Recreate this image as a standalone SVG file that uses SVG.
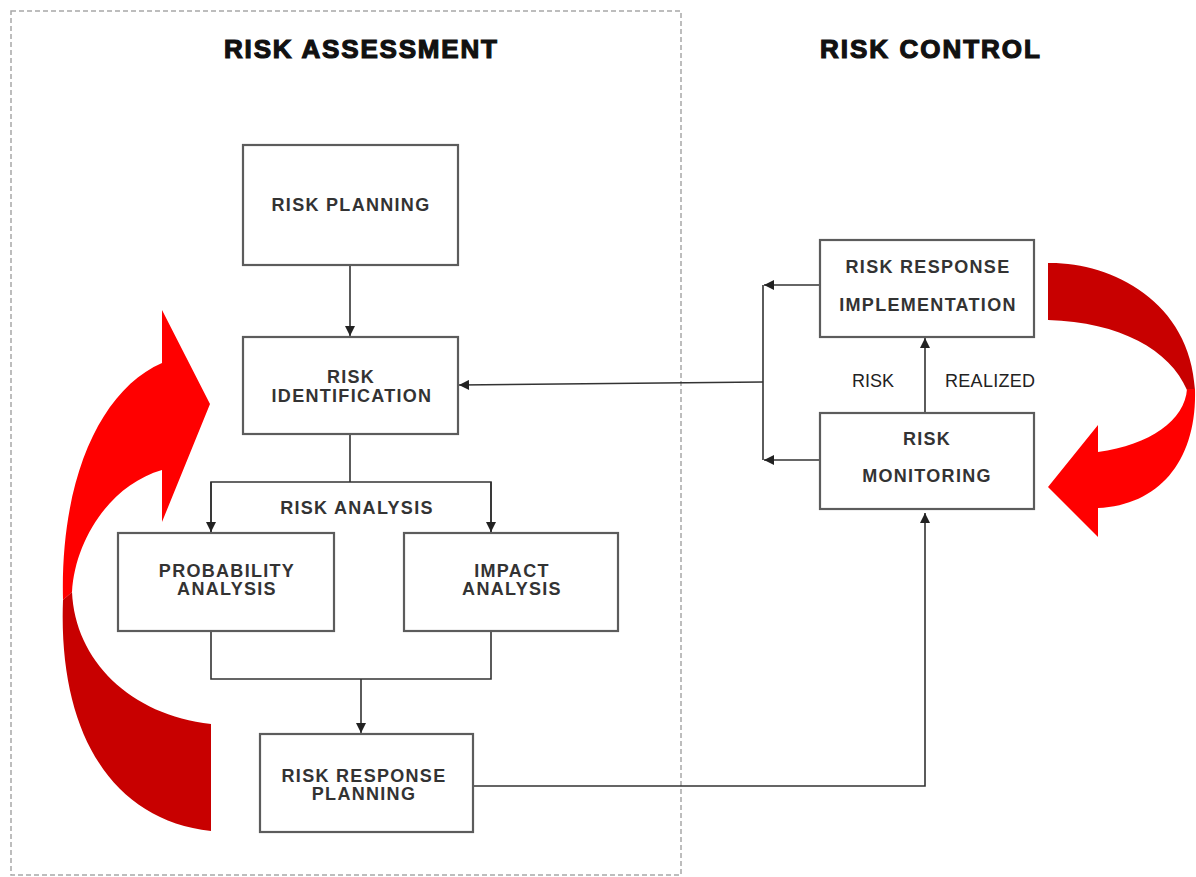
<svg xmlns="http://www.w3.org/2000/svg" width="1196" height="877" viewBox="0 0 1196 877">
<defs>
<style>
.box{fill:#fff;stroke:#5c5c5c;stroke-width:2.2}
.bt{font-family:"Liberation Sans",Arial,sans-serif;font-weight:bold;font-size:18px;fill:#333;letter-spacing:1.3px;text-anchor:middle}
.title{font-family:"Liberation Sans",Arial,sans-serif;font-weight:bold;font-size:26px;fill:#111;stroke:#111;stroke-width:1.2px}
.lbl{font-family:"Liberation Sans",Arial,sans-serif;font-size:18px;fill:#222}
.con{fill:none;stroke:#333;stroke-width:1.6}
.frame{fill:none;stroke:#a8a8a8;stroke-width:1.5;stroke-dasharray:5 3}
</style>
<marker id="ah" viewBox="0 0 10 10" refX="10" refY="5" markerWidth="11" markerHeight="10" markerUnits="userSpaceOnUse" orient="auto">
<path d="M0,0 L10,5 L0,10 Z" fill="#222"/>
</marker>
</defs>
<rect width="1196" height="877" fill="#fff"/>
<rect class="frame" x="11" y="11" width="670" height="864"/>
<text class="title" x="224" y="58" textLength="273" lengthAdjust="spacing">RISK ASSESSMENT</text>
<text class="title" x="820" y="58" textLength="220" lengthAdjust="spacing">RISK CONTROL</text>

<g id="left-cycle-arrow">
<path d="M162,310 L210,404 L162,522 L162,470 C110,485 75,540 72,592 L63,600 C60,480 100,390 162,363 Z" fill="#ff0000"/>
<path d="M72,592 C75,660 130,715 211,724 L211,831 C110,820 58,730 63,600 Z" fill="#c80000"/>
</g>
<g id="right-cycle-arrow">
<path d="M1048,263 C1110,262 1190,300 1195,390 L1187,390 C1170,350 1120,322 1048,320 Z" fill="#c80000"/>
<path d="M1195,389 C1197,460 1160,505 1098,508 L1098,537 L1048,487 L1098,425 L1098,452 C1150,445 1185,420 1187,389 Z" fill="#ff0000"/>
</g>

<g id="connectors">
<line class="con" x1="350" y1="265" x2="350" y2="336" marker-end="url(#ah)"/>
<polyline class="con" points="350,434 350,482"/>
<polyline class="con" points="211,532 211,482 491,482 491,532"/>
<line class="con" x1="211" y1="482" x2="211" y2="532" marker-end="url(#ah)"/>
<line class="con" x1="491" y1="482" x2="491" y2="532" marker-end="url(#ah)"/>
<polyline class="con" points="211,631 211,679 491,679 491,631"/>
<line class="con" x1="361" y1="679" x2="361" y2="733" marker-end="url(#ah)"/>
<polyline class="con" points="473,786 925,786 925,513" marker-end="url(#ah)"/>
<line class="con" x1="925" y1="412" x2="925" y2="338" marker-end="url(#ah)"/>
<line class="con" x1="820" y1="285" x2="764" y2="285" marker-end="url(#ah)"/>
<line class="con" x1="820" y1="460" x2="764" y2="460" marker-end="url(#ah)"/>
<line class="con" x1="763" y1="285" x2="763" y2="460"/>
<line class="con" x1="763" y1="382" x2="459" y2="385" marker-end="url(#ah)"/>
<text class="lbl" x="852" y="387">RISK</text>
<text class="lbl" x="945" y="387" letter-spacing="0.3">REALIZED</text>
<text class="bt" x="357" y="514">RISK ANALYSIS</text>
</g>

<g id="risk-planning">
<rect class="box" x="243" y="145" width="215" height="120"/>
<text class="bt" x="351" y="211">RISK PLANNING</text>
</g>
<g id="risk-identification">
<rect class="box" x="243" y="337" width="215" height="97"/>
<text class="bt" x="351" y="383">RISK</text>
<text class="bt" x="352" y="402">IDENTIFICATION</text>
</g>
<g id="probability-analysis">
<rect class="box" x="118" y="533" width="216" height="98"/>
<text class="bt" x="227" y="577">PROBABILITY</text>
<text class="bt" x="227" y="595">ANALYSIS</text>
</g>
<g id="impact-analysis">
<rect class="box" x="404" y="533" width="214" height="98"/>
<text class="bt" x="512" y="577">IMPACT</text>
<text class="bt" x="512" y="595">ANALYSIS</text>
</g>
<g id="risk-response-planning">
<rect class="box" x="260" y="734" width="213" height="98"/>
<text class="bt" x="364" y="782">RISK RESPONSE</text>
<text class="bt" x="364" y="800">PLANNING</text>
</g>
<g id="risk-response-implementation">
<rect class="box" x="820" y="240" width="214" height="97"/>
<text class="bt" x="928" y="273">RISK RESPONSE</text>
<text class="bt" x="928" y="311">IMPLEMENTATION</text>
</g>
<g id="risk-monitoring">
<rect class="box" x="820" y="413" width="214" height="96"/>
<text class="bt" x="927" y="445">RISK</text>
<text class="bt" x="927" y="482">MONITORING</text>
</g>
</svg>
